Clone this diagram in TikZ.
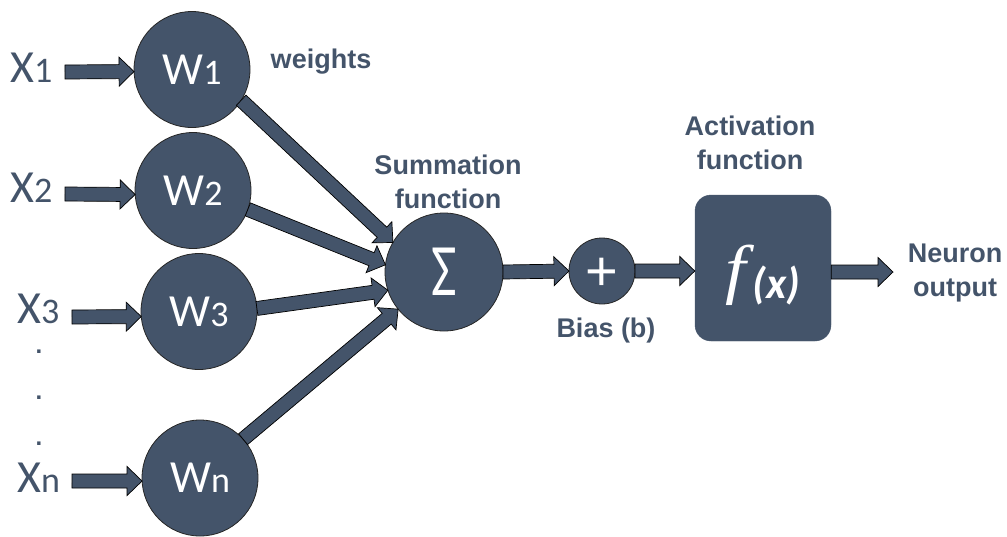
\documentclass[tikz,border=0pt]{standalone}
\usepackage{fontspec}
\usepackage{graphicx}
\setmainfont{Liberation Sans}
\newfontfamily\calfont{Carlito}
\newfontfamily\seriffont{Liberation Serif}
\usetikzlibrary{calc}
\definecolor{slate}{HTML}{44546A}
\newcommand{\subtxt}[1]{{\fontsize{36}{36}\selectfont #1}}
\newcommand{\blockarrow}[2]{%
  \coordinate (bh) at ($(#2)!15pt!(#1)$);
  \draw[barrow] ($(#1)!7pt!90:(#2)$) -- ($(bh)!7pt!-90:(#1)$) -- ($(bh)!14.5pt!-90:(#1)$) -- (#2)
    -- ($(bh)!14.5pt!90:(#1)$) -- ($(bh)!7pt!90:(#1)$) -- ($(#1)!7pt!-90:(#2)$) -- cycle;
}
\tikzset{
  wcirc/.style={circle, draw=black!85, line width=0.8pt, fill=slate, minimum size=116pt,
    inner sep=0pt, outer sep=0pt, text=white, font=\calfont\fontsize{46}{46}\selectfont},
  lbl/.style={text=slate, font=\bfseries\fontsize{27}{34}\selectfont, align=center, inner sep=0pt},
  xlbl/.style={text=slate, font=\calfont\fontsize{46}{46}\selectfont, inner sep=0pt, anchor=base west},
  dotlbl/.style={text=slate, font=\bfseries\fontsize{24}{24}\selectfont, inner sep=0pt},
  barrow/.style={fill=slate, draw=black, line width=0.7pt, line join=miter},
}
\begin{document}
\begin{tikzpicture}[x=1pt, y=-1pt]
\useasboundingbox (0,0) rectangle (1007,536);
% input labels
\node[xlbl] (x1) at (10,82) {X\subtxt{1}};
\node[xlbl] (x2) at (10,202) {X\subtxt{2}};
\node[xlbl] (x3) at (17,323) {X\subtxt{3}};
\node[xlbl] (xn) at (17,492) {X\subtxt{n}};
\node[dotlbl] (d1) at (39,352) {.};
\node[dotlbl] (d2) at (39,398) {.};
\node[dotlbl] (d3) at (39,444) {.};
% weight circles
\node[wcirc] (w1) at (192,69.5) {W\subtxt{1}};
\node[wcirc] (w2) at (193,190.5) {W\subtxt{2}};
\node[wcirc] (w3) at (199,311.5) {W\subtxt{3}};
\node[wcirc] (wn) at (200,478) {W\subtxt{n}};
% summation, bias, activation
\node[wcirc, minimum size=118pt] (sig) at (444,272) {\scalebox{0.75}[1]{\fontsize{74}{74}\selectfont Σ}};
\node[wcirc, minimum size=66pt, font=\fontsize{56}{56}\selectfont, text height=39pt, text depth=0pt] (plus) at (602,271) {+};
\node[fill=slate, draw=slate, rounded corners=16pt, minimum width=136pt, minimum height=146pt,
  inner sep=0pt, text=white, text height=46pt, text depth=0pt] (fbox) at (763,268)
  {\scalebox{1.12}[1]{\seriffont\itshape\fontsize{66}{66}\selectfont f}\hspace{6pt}\raisebox{-7pt}{\calfont\bfseries\itshape\fontsize{44}{44}\selectfont (x)}};
% text labels
\node[lbl, anchor=base] (wlbl) at (321,68) {weights};
\node[lbl] (slbl) at (448,181.5) {Summation\\function};
\node[lbl] (albl) at (750,142.5) {Activation\\function};
\node[lbl] (olbl) at (955,273.5) {Neuron\\output};
\node[lbl, anchor=base] (blbl) at (606,337) {Bias (b)};
% coordinates for arrow ends
\coordinate (x1s) at (65,72);
\coordinate (x2s) at (65,194);
\coordinate (x3s) at (72,317);
\coordinate (xns) at (72,481);
\coordinate (pf) at (plus.east -| fbox.west);
\coordinate (outtip) at (893,272);
\coordinate (fo) at (fbox.east |- outtip);
% arrows
\blockarrow{x1s}{w1.182}
\blockarrow{x2s}{w2.184}
\blockarrow{x3s}{w3.185}
\blockarrow{xns}{wn.183}
\blockarrow{w1.-32}{sig.150}
\blockarrow{w2.-19}{sig.173}
\blockarrow{w3.3}{sig.198}
\blockarrow{wn.42}{sig.219}
\blockarrow{sig.east}{plus.west}
\blockarrow{plus.east}{pf}
\blockarrow{fo}{outtip}
\end{tikzpicture}
\end{document}
